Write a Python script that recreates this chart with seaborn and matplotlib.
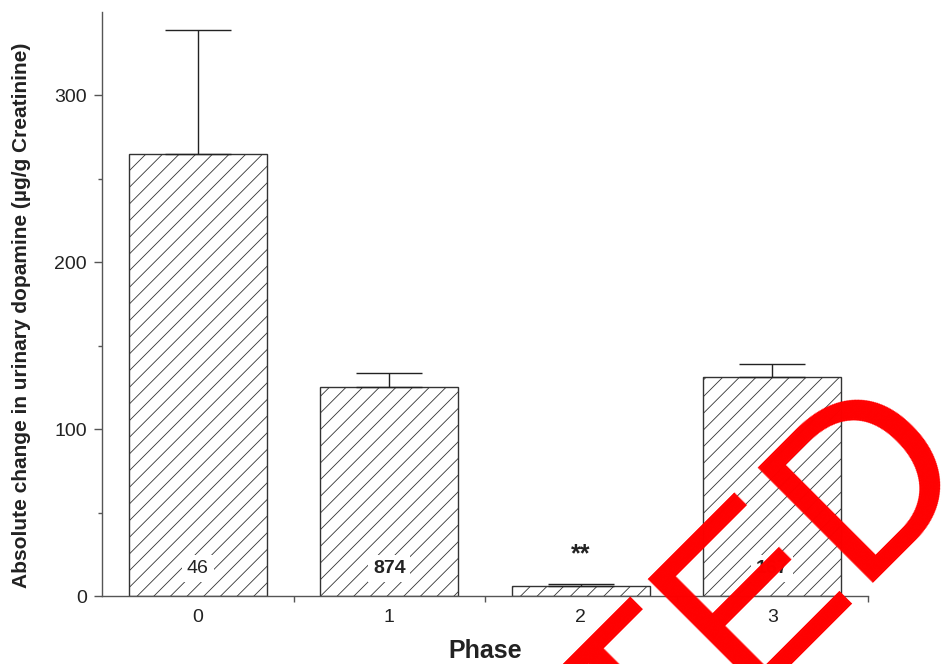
import matplotlib
matplotlib.use('Agg')
import matplotlib.pyplot as plt
import seaborn as sns

# values
phases = ['0', '1', '2', '3']
means = [265, 125, 6, 131]
sem_up = [74, 8.5, 1, 8]
n_labels = ['46', '874', '', '167']
n_bold = [False, True, True, True]

sns.set_style('ticks')
plt.rcParams['font.family'] = ['Liberation Sans', 'DejaVu Sans']
plt.rcParams['hatch.linewidth'] = 0.6
plt.rcParams['hatch.color'] = '#444444'

fig = plt.figure(figsize=(9.42, 6.64), dpi=100)
ax = fig.add_axes([0.1083, 0.1024, 0.8132, 0.8795])

sns.barplot(x=phases, y=means, color='white', saturation=1, edgecolor='#333333',
            linewidth=1, hatch='//', width=0.72, errorbar=None, ax=ax)

# only the upper half of the error bar is drawn
ax.errorbar(range(len(phases)), means, yerr=[[0] * len(phases), sem_up], fmt='none',
            ecolor='#222222', elinewidth=1, capsize=24, capthick=1, zorder=3)

for i, (lab, b) in enumerate(zip(n_labels, n_bold)):
    if lab:
        ax.text(i, 16.5, lab, ha='center', va='center', fontsize=14, color='#222222',
                fontweight='bold' if b else 'normal',
                bbox=dict(boxstyle='square,pad=0.25', fc='white', ec='none'), zorder=4)

ax.text(2, 21, '**', ha='center', va='baseline', fontsize=18, fontweight='bold', color='#222222')

ax.set_xlim(-0.5, 3.5)
ax.set_ylim(0, 350)
ax.set_yticks([0, 100, 200, 300])
ax.set_yticks([50, 150, 250], minor=True)
ax.set_xticks([0.5, 1.5, 2.5, 3.5], minor=True)
ax.tick_params(axis='y', which='major', length=6, width=1, color='#555555', labelsize=14,
               labelcolor='#222222', pad=5)
ax.tick_params(axis='y', which='minor', length=3, width=1, color='#555555')
ax.tick_params(axis='x', which='major', length=0, labelsize=14, labelcolor='#222222', pad=9)
ax.tick_params(axis='x', which='minor', length=4, width=1, color='#555555')

sns.despine(ax=ax)
for s in ['left', 'bottom']:
    ax.spines[s].set_color('#555555')
    ax.spines[s].set_linewidth(1)

ax.set_xlabel('Phase', fontsize=18, fontweight='bold', color='#222222', labelpad=10)
ax.set_ylabel('Absolute change in urinary dopamine (µg/g Creatinine)', fontsize=15,
              fontweight='bold', color='#222222')
ax.yaxis.set_label_coords(-0.093, 0.48)

# red stamp laid over the figure
fig.text(975 / 942, 1 - 462 / 664, 'RETRACTED', rotation=45, rotation_mode='anchor',
         ha='right', va='baseline', color='#ff0000', fontsize=169, zorder=10)

fig.savefig('out.png', dpi=100)
